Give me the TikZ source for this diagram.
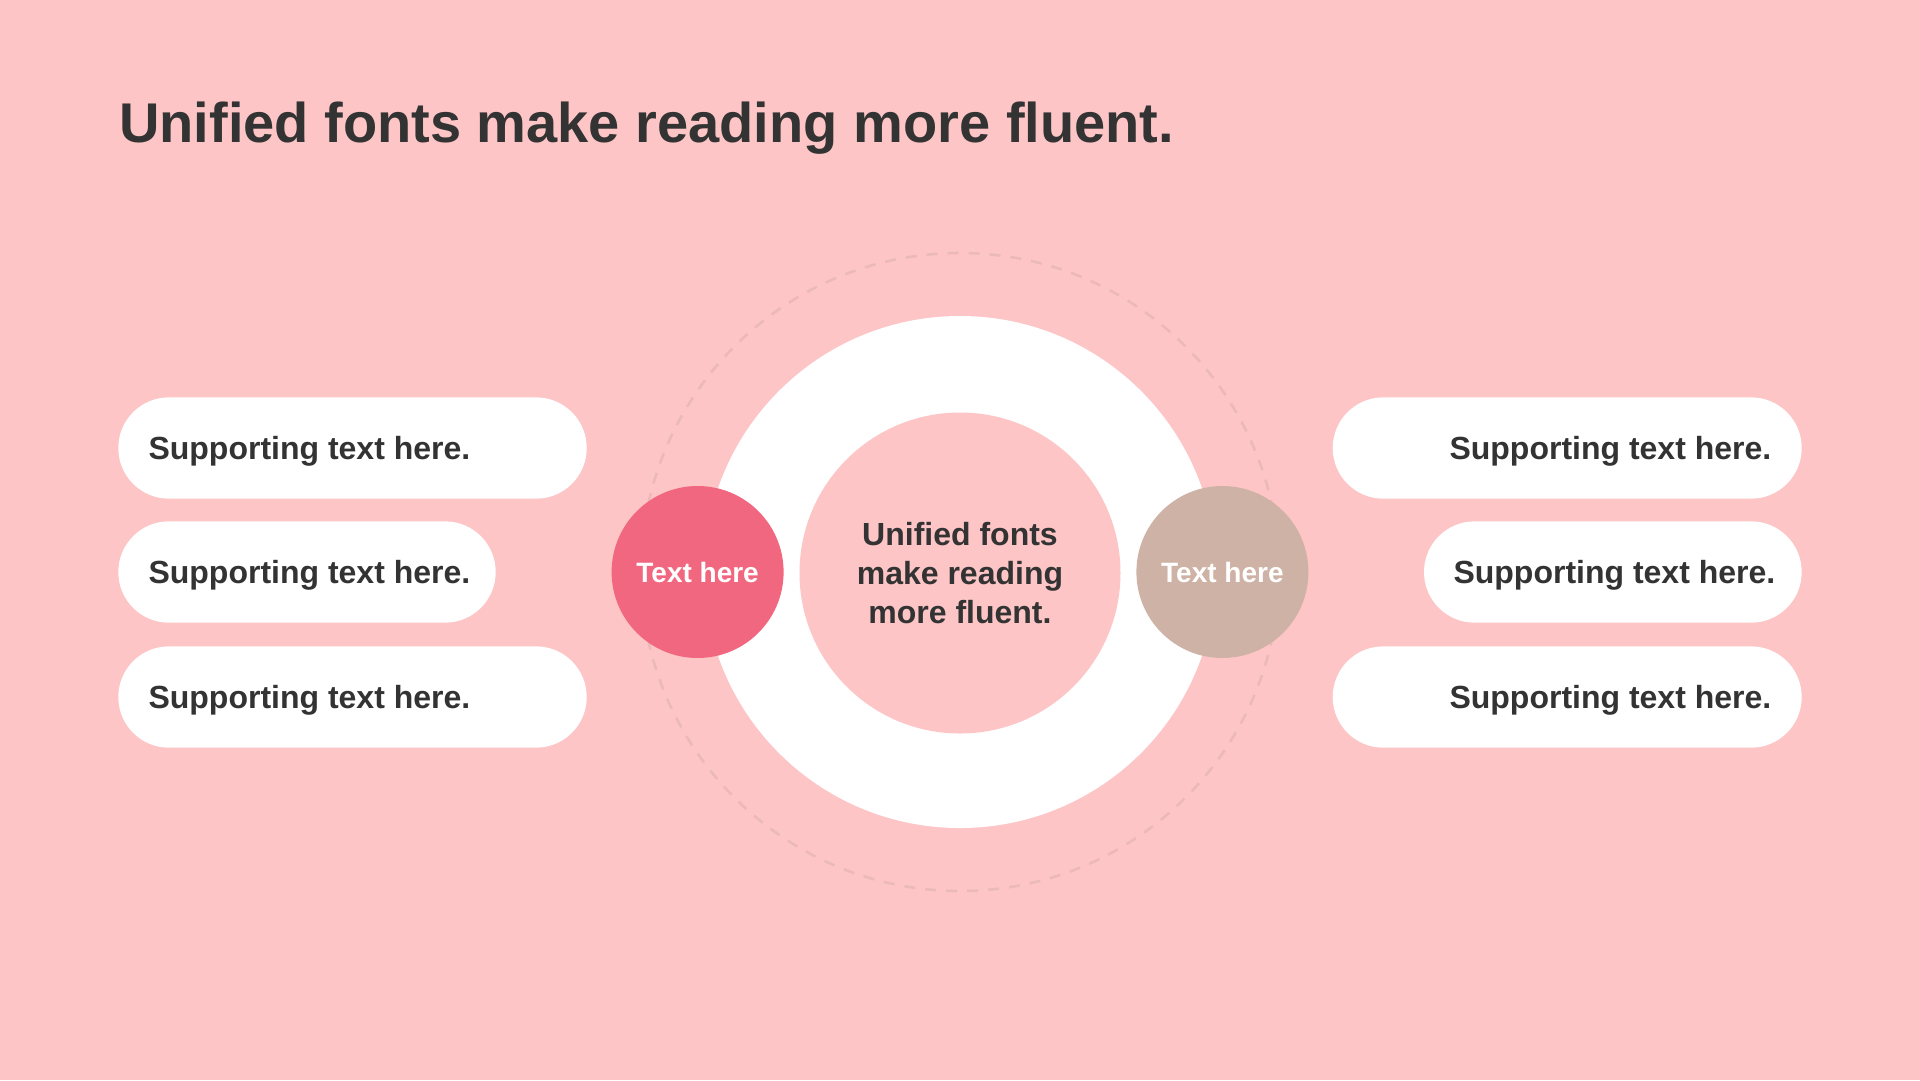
\documentclass[tikz,border=0pt]{standalone}
\usepackage{fontspec}
\setmainfont{Liberation Sans}
\definecolor{bg}{HTML}{FDC5C6}
\definecolor{ink}{HTML}{333333}
\definecolor{redc}{HTML}{F1677F}
\definecolor{tanc}{HTML}{CFB2A6}
\definecolor{dashc}{HTML}{EBB9B9}
\tikzset{
  pill/.style={fill=white, draw=none, rounded corners=50.6pt, minimum height=101.3pt, inner sep=0pt},
  suptext/.style={text=ink, font=\fontsize{32}{38}\selectfont\bfseries, inner sep=0pt},
  dot/.style={circle, draw=none, minimum size=172pt, inner sep=0pt, text=white, font=\fontsize{28}{33}\selectfont\bfseries},
}
\begin{document}
\begin{tikzpicture}[x=1pt, y=-1pt]
\fill[bg] (0,0) rectangle (1920,1080);
\useasboundingbox (0,0) rectangle (1920,1080);
% title
\node[anchor=base west, inner sep=0pt, text=ink, font=\fontsize{56}{67}\selectfont\bfseries] (title) at (119,142) {Unified fonts make reading more fluent.};
% dashed ring
\draw[dashc, line width=2.6pt, dash pattern=on 11pt off 10pt] (960,572) circle[radius=319];
% white ring and inner circle
\node[circle, fill=white, minimum size=512pt, inner sep=0pt] (ring) at (960,572) {};
\node[circle, fill=bg, minimum size=321pt, inner sep=0pt, align=center, text=ink, font=\fontsize{32}{39}\selectfont\bfseries] (core) at (960,573) {Unified fonts\\make reading\\more fluent.};
% side circles
\node[dot, fill=redc] (left) at (697.6,572) {Text here};
\node[dot, fill=tanc] (right) at (1222.4,572) {Text here};
% left pills
\node[pill, minimum width=468.4pt] (l1) at (352.5,448) {};
\node[pill, minimum width=377.4pt] (l2) at (307,572) {};
\node[pill, minimum width=468.4pt] (l3) at (352.5,697) {};
\node[suptext, anchor=base west] (tl1) at (148.3,459.3) {Supporting text here.};
\node[suptext, anchor=base west] (tl2) at (148.3,583.3) {Supporting text here.};
\node[suptext, anchor=base west] (tl3) at (148.3,708.3) {Supporting text here.};
% right pills
\node[pill, minimum width=469pt] (r1) at (1567.2,448) {};
\node[pill, minimum width=377.7pt] (r2) at (1612.85,572) {};
\node[pill, minimum width=469pt] (r3) at (1567.2,697) {};
\node[suptext, anchor=base east] (tr1) at (1771.5,459.3) {Supporting text here.};
\node[suptext, anchor=base east] (tr2) at (1775.5,583.3) {Supporting text here.};
\node[suptext, anchor=base east] (tr3) at (1771.5,708.3) {Supporting text here.};
\end{tikzpicture}
\end{document}
